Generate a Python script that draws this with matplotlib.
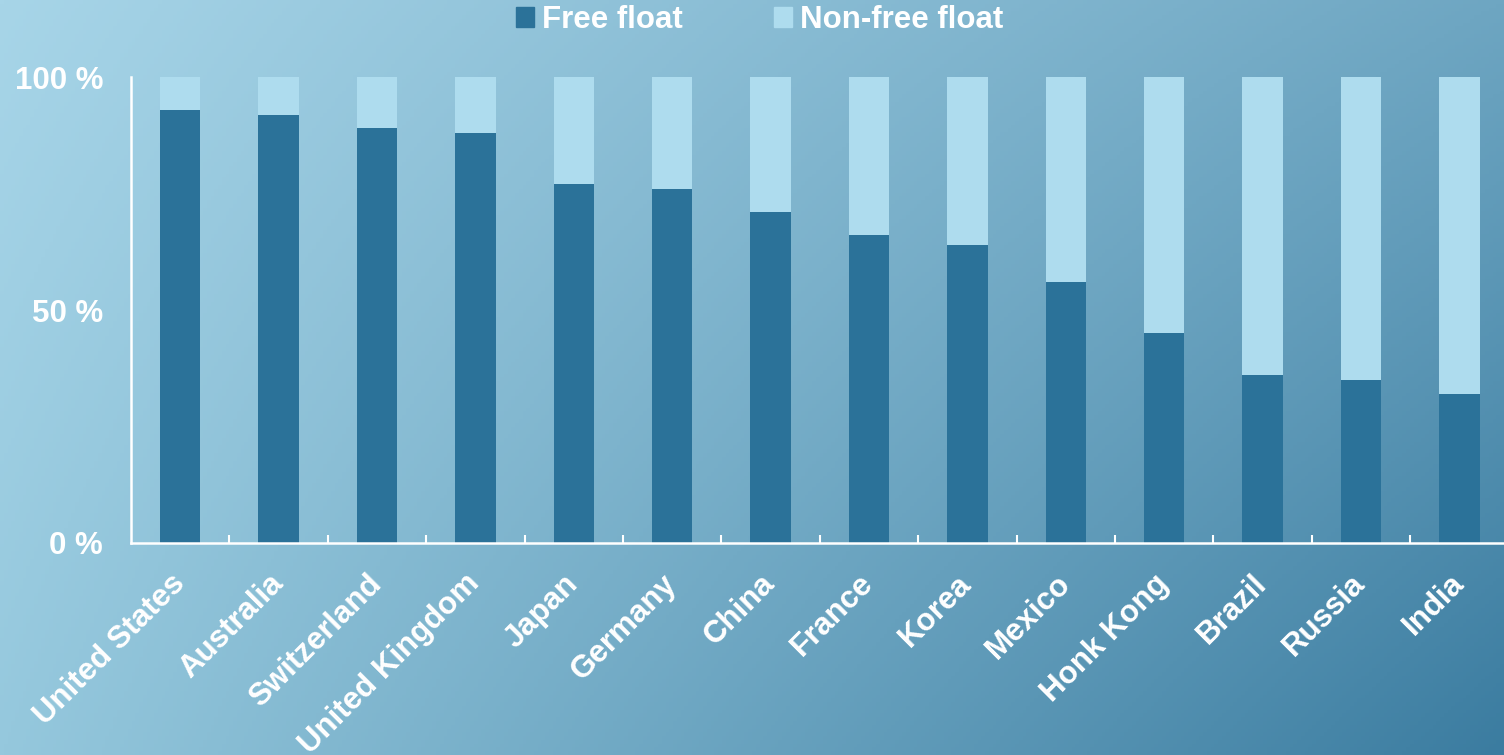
import numpy as np
import matplotlib.pyplot as plt
from matplotlib.patches import Patch

countries = ["United States", "Australia", "Switzerland", "United Kingdom", "Japan",
             "Germany", "China", "France", "Korea", "Mexico", "Honk Kong", "Brazil",
             "Russia", "India"]
free_float = [92.9, 91.8, 89.1, 88.0, 77.0, 76.0, 71.0, 66.1, 63.9, 56.0, 45.1, 36.1, 35.0, 32.0]
non_free = [100 - v for v in free_float]

dark = "#2b7299"
light = "#aedcee"
font = ["Liberation Sans", "DejaVu Sans"]
plt.rcParams["font.family"] = font
plt.rcParams["font.weight"] = "bold"

fig = plt.figure(figsize=(15.04, 7.55), dpi=100)

# background gradient
bg = fig.add_axes([0, 0, 1, 1], zorder=-10)
corners = np.array([[[0xa7, 0xd5, 0xe8], [0x6e, 0xa6, 0xc2]],
                    [[0x95, 0xc8, 0xdd], [0x3b, 0x7c, 0xa0]]]) / 255.0
yy, xx = np.mgrid[0:1:200j, 0:1:400j]
img = (corners[0, 0] * ((1 - xx) * (1 - yy))[..., None] + corners[0, 1] * (xx * (1 - yy))[..., None]
       + corners[1, 0] * ((1 - xx) * yy)[..., None] + corners[1, 1] * (xx * yy)[..., None])
bg.imshow(img, aspect="auto", extent=[0, 1, 0, 1])
bg.axis("off")

ax = fig.add_axes([0.0871, 0.2808, 0.916, 0.617])
ax.patch.set_alpha(0)
x = np.arange(len(countries))
ax.bar(x, free_float, width=0.41, color=dark, label="Free float")
ax.bar(x, non_free, width=0.41, bottom=free_float, color=light, label="Non-free float")

ax.set_xlim(-0.5, len(countries) - 0.5)
ax.set_ylim(0, 100)
ax.set_yticks([0, 50, 100])
ax.set_yticklabels(["0 %", "50 %", "100 %"])
ax.tick_params(axis="y", length=0, pad=20, labelsize=22.5, labelcolor="white")

ax.set_xticks(x)
ax.set_xticklabels(countries, rotation=45, ha="right", va="center", rotation_mode="anchor")
ax.tick_params(axis="x", which="major", length=0, pad=26, labelsize=22.5, labelcolor="white")
ax.set_xticks(x[:-1] + 0.5, minor=True)
ax.tick_params(axis="x", which="minor", direction="in", length=6, width=1.5, color="white")

for s in ["top", "right"]:
    ax.spines[s].set_visible(False)
for s in ["left", "bottom"]:
    ax.spines[s].set_color("white")
    ax.spines[s].set_linewidth(1.8)

handles = [Patch(color=dark), Patch(color=light)]
leg = fig.legend(handles, ["Free float", "Non-free float"], loc="center", bbox_to_anchor=(0.505, 0.973),
                 ncol=2, frameon=False, handlelength=0.6, handleheight=0.6, handletextpad=0.25,
                 columnspacing=2.9, fontsize=22.5)
for t in leg.get_texts():
    t.set_color("white")

fig.savefig("out.png", dpi=100)
